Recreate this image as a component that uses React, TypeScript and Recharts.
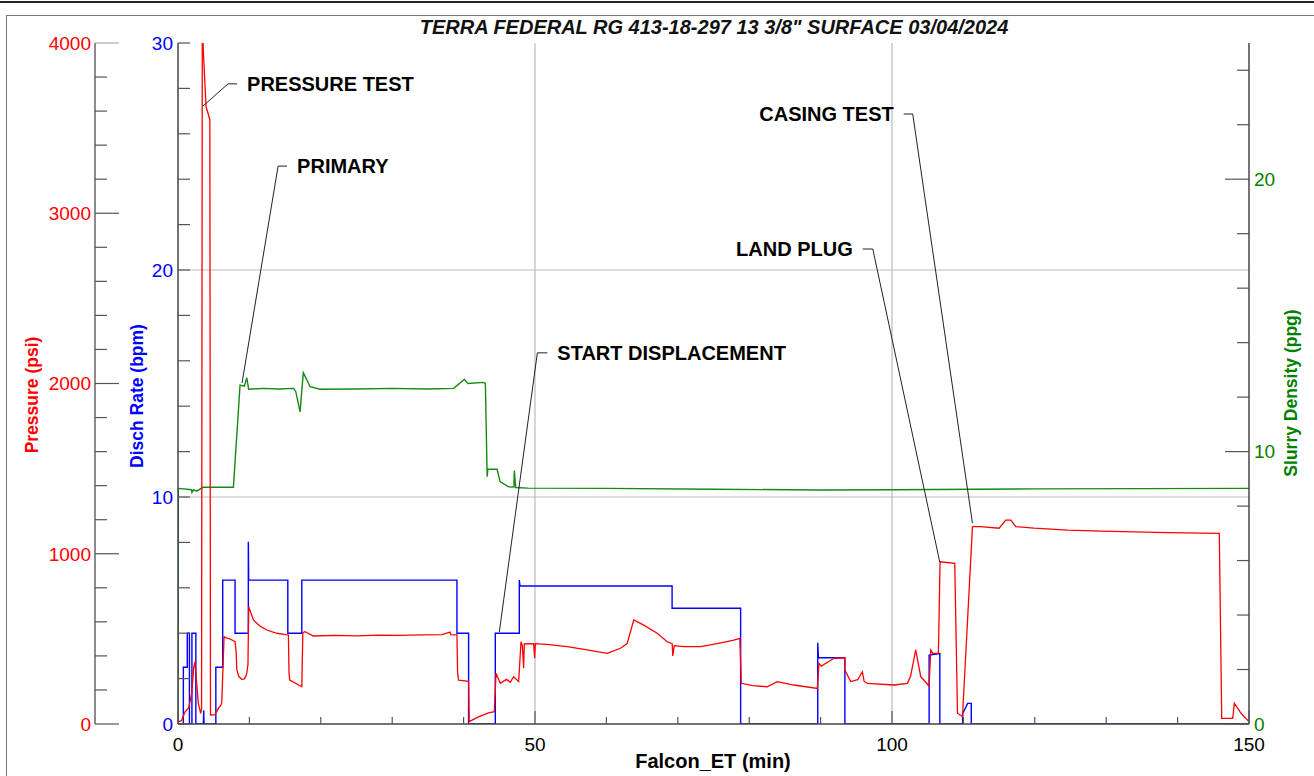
import React from "react";
import { LineChart, Line, XAxis, YAxis, ReferenceLine, ReferenceDot } from "recharts";

const FONT = '"Liberation Sans", Arial, sans-serif';

// Falcon_ET (min) vs pressure (psi)
const pressureT = [
  0, 0.5, 0.98, 1.5, 1.92, 2.2, 2.38, 2.6, 2.85, 3.18, 3.3, 3.4, 3.47, 3.55, 3.93, 4.25, 4.46, 4.55,
  5.19, 5.65, 6.0, 6.13, 6.45, 6.8, 7.05, 7.5, 7.99, 8.15, 8.23, 8.5, 8.93, 9.3, 9.6, 9.8, 9.9, 10.56,
  11.5, 12.44, 13.84, 15.46, 15.55, 15.65, 17.34, 17.48, 17.8, 18.97, 22, 25, 28, 31, 34, 37, 38.1,
  38.2, 39.07, 39.16, 39.3, 40.7, 40.78, 42, 43.5, 44.3, 44.54, 45.14, 46.0, 46.54, 47.0, 47.71, 48.04,
  48.23, 48.41, 48.5, 49.81, 49.95, 50.05, 52, 54.5, 57.3, 60.1, 61.97, 62.9, 63.83, 65.23, 67.11,
  68.51, 69.21, 69.3, 69.5, 70.84, 73.18, 75.52, 77.85, 78.69, 78.89, 80.5, 82.53, 83.93, 86.26,
  89.54, 89.77, 90.1, 91.87, 93.37, 93.4, 94.21, 95.2, 95.85, 96.1, 96.55, 100.28, 102.16, 102.6,
  103.32, 104.03, 105.19, 105.43, 105.7, 106.5, 106.73, 108.79, 109.17, 109.87, 111.27, 112.43,
  115.0, 115.94, 116.64, 117.34, 119.9, 124.59, 129.26, 133.93, 138.6, 145.84, 146.18, 147.72,
  147.95, 148.89, 150,
];
const pressureV = [
  14, 20, 72, 95, 180, 330, 366, 250, 120, 63, 90, 4000, 4080, 3950, 3626, 3580, 3548, 53,
  55, 92, 110, 125, 513, 505, 503, 495, 483, 420, 320, 280, 262, 265, 290, 350, 689, 611,
  575, 552, 533, 523, 300, 258, 219, 536, 542, 517, 521, 518, 522, 520, 523, 525, 540,
  525, 523, 300, 258, 250, 14, 40, 65, 72, 298, 239, 262, 245, 278, 249, 483,
  460, 327, 470, 472, 386, 472, 466, 454, 435, 415, 445, 472, 611, 581, 533,
  483, 472, 400, 460, 454, 454, 472, 493, 503, 239, 225, 219, 249, 229,
  209, 356, 340, 386, 389, 317, 249, 260, 307, 250, 239, 229, 239, 280,
  435, 278, 223, 435, 415, 415, 953, 943, 63, 43, 1159, 1159,
  1150, 1198, 1198, 1159, 1150, 1139, 1133, 1128, 1124, 1120, 33, 33,
  122, 63, 14,
];

// Falcon_ET (min) vs discharge rate (bpm)
const rateT = [
  0, 0.75, 0.75, 1.3, 1.3, 1.6, 1.6, 1.95, 1.95, 2.5, 2.5, 3.55, 3.6, 3.65, 5.3, 5.3, 6.26, 6.26,
  7.99, 7.99, 9.85, 9.85, 9.9, 15.38, 15.38, 17.34, 17.34, 39.07, 39.07, 40.7, 40.7, 44.44, 44.44,
  47.8, 47.8, 47.9, 69.2, 69.2, 78.8, 78.8, 89.6, 89.6, 89.7, 93.4, 93.4, 105.2, 105.2, 106.7, 106.7,
  109.9, 109.9, 110.6, 111.1, 111.1, 150,
];
const rateV = [
  0, 0, 2.5, 2.5, 4.0, 4.0, 0, 0, 4.0, 4.0, 0, 0, 0.6, 0, 0, 2.5, 2.5, 6.34,
  6.34, 4.0, 4.0, 8.03, 6.34, 6.34, 4.0, 4.0, 6.34, 6.34, 4.0, 4.0, 0, 0, 4.0,
  4.0, 6.34, 6.08, 6.08, 5.1, 5.1, 0, 0, 3.58, 2.92, 2.92, 0, 0, 3.04, 3.1, 0,
  0, 0.47, 0.91, 0.91, 0, 0,
];

// Falcon_ET (min) vs slurry density (ppg)
const densityT = [
  0, 0.05, 1.9, 1.95, 2.2, 2.6, 3.5, 7.76, 8.69, 9.3, 9.63, 9.9, 12, 14, 16.2, 16.5, 17.1, 17.55,
  18.5, 19.9, 25, 30, 35, 38.6, 40.1, 40.6, 42.8, 43.05, 43.3, 43.4, 44.7, 45.1, 46.3, 47.05, 47.1,
  47.3, 49, 60, 75, 90, 100, 120, 150,
];
const densityV = [
  0, 8.65, 8.6, 8.5, 8.6, 8.55, 8.69, 8.69, 12.44, 12.4, 12.71, 12.29, 12.32, 12.3, 12.32, 12.2, 11.46, 12.9,
  12.38, 12.29, 12.3, 12.32, 12.3, 12.32, 12.65, 12.5, 12.54, 12.5, 9.08, 9.35, 9.35, 8.9, 8.71, 8.7, 9.3,
  8.68, 8.66, 8.65, 8.62, 8.59, 8.6, 8.63, 8.65,
];

const timeTicks = [0, 10, 20, 30, 40, 50, 60, 70, 80, 90, 100, 110, 120, 130, 140, 150];
const pressureTicks = [0, 200, 400, 600, 800, 1000, 1200, 1400, 1600, 1800, 2000, 2200, 2400, 2600, 2800, 3000, 3200, 3400, 3600, 3800, 4000];
const rateTicks = [0, 2, 4, 6, 8, 10, 12, 14, 16, 18, 20, 22, 24, 26, 28, 30];
const densityTicks = [0, 2, 4, 6, 8, 10, 12, 14, 16, 18, 20, 22, 24];
const gridRate = [10, 20];
const gridTime = [50, 100];

// event annotations: point on trace, elbow and label anchor (pressure axis)
const noteText = ["PRESSURE TEST", "PRIMARY", "START DISPLACEMENT", "LAND PLUG", "CASING TEST"];
const notePointT = [3.5, 8.97, 45.0, 106.69, 111.27];
const notePointP = [3630, 2003, 540, 951, 1179];
const noteElbowT = [7.01, 14.02, 50.33, 97.31, 102.9];
const noteLabelT = [8.27, 15.28, 51.73, 95.9, 101.64];
const noteLabelP = [3760, 3277, 2180, 2790, 3583];
const noteSide = ["right", "right", "right", "left", "left"];

const pressureData = pressureT.map((t, i) => ({ t, v: pressureV[i] }));
const rateData = rateT.map((t, i) => ({ t, v: rateV[i] }));
const densityData = densityT.map((t, i) => ({ t, v: densityV[i] }));

const AXIS = "#444";
const TICK = "#555";
const RATE_ID = "a";
const PSI_ID = "b";
const PPG_ID = "c";

function PressureTick(props: any) {
  const { x, y, payload } = props;
  const major = payload.value % 1000 === 0;
  return (
    <g>
      <line x1={x} x2={x + (major ? 24 : 12)} y1={y} y2={y} stroke={payload.value === 4000 ? "#aaa" : TICK} strokeWidth={1.2} />
      {major && (
        <text x={x - 4} y={y} dy="0.36em" textAnchor="end" fill="#ff0000" fontSize={19} fontFamily={FONT}>
          {payload.value}
        </text>
      )}
    </g>
  );
}

function RateTick(props: any) {
  const { x, y, payload } = props;
  return (
    <g>
      <line x1={x} x2={x + 12} y1={y} y2={y} stroke={TICK} strokeWidth={1.2} />
      {payload.value % 10 === 0 && (
        <text x={x - 5} y={y} dy="0.36em" textAnchor="end" fill="#0000ff" fontSize={19} fontFamily={FONT}>
          {payload.value}
        </text>
      )}
    </g>
  );
}

function DensityTick(props: any) {
  const { x, y, payload } = props;
  const major = payload.value % 10 === 0;
  return (
    <g>
      <line x1={x - (major ? 24 : 12)} x2={x} y1={y} y2={y} stroke={TICK} strokeWidth={1.2} />
      {major && (
        <text x={x + 5} y={y} dy="0.36em" textAnchor="start" fill="#008000" fontSize={19} fontFamily={FONT}>
          {payload.value}
        </text>
      )}
    </g>
  );
}

function TimeTick(props: any) {
  const { x, y, payload } = props;
  const major = payload.value % 50 === 0;
  return (
    <g>
      <line x1={x} x2={x} y1={y} y2={y - (major ? 13 : 7)} stroke={TICK} strokeWidth={1.2} />
      {major && (
        <text x={x} y={y + 20} dy="0.36em" textAnchor="middle" fill="#000" fontSize={19} fontFamily={FONT}>
          {payload.value}
        </text>
      )}
    </g>
  );
}

function TopTick(props: any) {
  const { x, y } = props;
  return <line x1={x} x2={x} y1={y} y2={y + 7} stroke={TICK} strokeWidth={1.2} />;
}

export default function App() {
  return (
    <div style={{ position: "absolute", left: 0, top: 0, width: 1314, height: 776, background: "#fff" }}>
      <LineChart width={1314} height={776} margin={{ top: 43, right: 0, bottom: 0, left: 0 }}>
        <XAxis
          dataKey="t"
          type="number"
          domain={[0, 150]}
          allowDataOverflow
          ticks={timeTicks}
          interval={0}
          height={52}
          tickSize={0}
          tickMargin={0}
          tick={<TimeTick />}
          axisLine={{ stroke: AXIS, strokeWidth: 1.5 }}
        />
        <XAxis
          xAxisId="top"
          orientation="top"
          dataKey="t"
          type="number"
          domain={[0, 150]}
          allowDataOverflow
          ticks={timeTicks}
          interval={0}
          height={0}
          tickSize={0}
          tickMargin={0}
          tick={<TopTick />}
          axisLine={{ stroke: AXIS, strokeWidth: 1.5 }}
        />
        <YAxis
          yAxisId={RATE_ID}
          orientation="left"
          width={83}
          type="number"
          domain={[0, 30]}
          allowDataOverflow
          ticks={rateTicks}
          interval={0}
          tickSize={0}
          tickMargin={0}
          tick={<RateTick />}
          axisLine={{ stroke: AXIS, strokeWidth: 1.5 }}
        />
        <YAxis
          yAxisId={PSI_ID}
          orientation="left"
          width={95}
          type="number"
          domain={[0, 4000]}
          allowDataOverflow
          ticks={pressureTicks}
          interval={0}
          tickSize={0}
          tickMargin={0}
          tick={<PressureTick />}
          axisLine={{ stroke: "#666", strokeWidth: 1.5 }}
        />
        <YAxis
          yAxisId={PPG_ID}
          orientation="right"
          width={65}
          type="number"
          domain={[0, 25]}
          allowDataOverflow
          ticks={densityTicks}
          interval={0}
          tickSize={0}
          tickMargin={0}
          tick={<DensityTick />}
          axisLine={{ stroke: AXIS, strokeWidth: 1.5 }}
        />

        {gridRate.map((v) => (
          <ReferenceLine key={"gr" + v} yAxisId={RATE_ID} y={v} stroke="#bbb" strokeWidth={1.2} />
        ))}
        {gridTime.map((v) => (
          <ReferenceLine key={"gt" + v} yAxisId={RATE_ID} x={v} stroke="#bbb" strokeWidth={1.2} />
        ))}

        <Line data={densityData} yAxisId={PPG_ID} dataKey="v" type="linear" stroke="#138a13" strokeWidth={1.4} dot={false} isAnimationActive={false} />
        <Line data={rateData} yAxisId={RATE_ID} dataKey="v" type="linear" stroke="#0000ff" strokeWidth={1.4} dot={false} isAnimationActive={false} />
        <Line data={pressureData} yAxisId={PSI_ID} dataKey="v" type="linear" stroke="#ff0000" strokeWidth={1.3} dot={false} isAnimationActive={false} />

        {noteText.map((name, i) => (
          <ReferenceLine
            key={"na" + i}
            yAxisId={PSI_ID}
            segment={[
              { x: notePointT[i], y: notePointP[i] },
              { x: noteElbowT[i], y: noteLabelP[i] },
            ]}
            stroke="#222"
            strokeWidth={1}
            ifOverflow="visible"
          />
        ))}
        {noteText.map((name, i) => (
          <ReferenceLine
            key={"nb" + i}
            yAxisId={PSI_ID}
            segment={[
              { x: noteElbowT[i], y: noteLabelP[i] },
              { x: noteLabelT[i], y: noteLabelP[i] },
            ]}
            stroke="#222"
            strokeWidth={1}
            ifOverflow="visible"
          />
        ))}
        {noteText.map((name, i) => (
          <ReferenceDot
            key={"nd" + i}
            yAxisId={PSI_ID}
            x={noteLabelT[i]}
            y={noteLabelP[i]}
            r={0}
            fill="none"
            stroke="none"
            ifOverflow="visible"
            label={{
              value: name,
              position: noteSide[i] as any,
              offset: 10,
              fill: "#000",
              fontSize: 20,
              fontWeight: 700,
              fontFamily: FONT,
            }}
          />
        ))}
      </LineChart>

      <svg width={1314} height={776} style={{ position: "absolute", left: 0, top: 0, pointerEvents: "none" }}>
        <line x1={0} x2={1314} y1={2} y2={2} stroke="#222" strokeWidth={2} />
        <rect x={6.5} y={15.5} width={1320} height={770} fill="none" stroke="#777" strokeWidth={1} />
        <text x={714} y={27} dy="0.36em" textAnchor="middle" fontSize={20} fontWeight={700} fontStyle="italic" fontFamily={FONT} fill="#111">
          TERRA FEDERAL RG 413-18-297 13 3/8" SURFACE 03/04/2024
        </text>
        <text x={713} y={761} dy="0.36em" textAnchor="middle" fontSize={20} fontWeight={700} fontFamily={FONT} fill="#000">
          Falcon_ET (min)
        </text>
        <text transform="translate(32,395) rotate(-90)" dy="0.36em" textAnchor="middle" fontSize={17.5} fontWeight={700} fontFamily={FONT} fill="#ff0000">
          Pressure (psi)
        </text>
        <text transform="translate(137,396) rotate(-90)" dy="0.36em" textAnchor="middle" fontSize={17.5} fontWeight={700} fontFamily={FONT} fill="#0000ff">
          Disch Rate (bpm)
        </text>
        <text transform="translate(1291,393) rotate(-90)" dy="0.36em" textAnchor="middle" fontSize={17.5} fontWeight={700} fontFamily={FONT} fill="#008000">
          Slurry Density (ppg)
        </text>
      </svg>
    </div>
  );
}
